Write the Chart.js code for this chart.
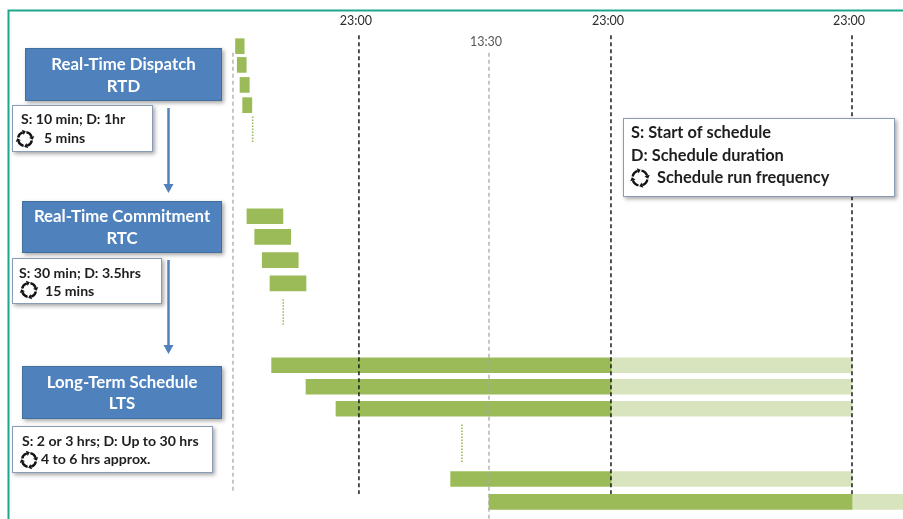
<!DOCTYPE html>
<html>
<head>
<meta charset="utf-8">
<script src="https://cdn.jsdelivr.net/npm/chart.js@4.4.1/dist/chart.umd.min.js"></script>
<style>
  html, body { margin: 0; padding: 0; background: #fff; }
  #wrap { width: 903px; height: 519px; }
</style>
</head>
<body>
<div id="wrap"><canvas id="scheduleChart" width="903" height="519"></canvas></div>
<script>
// time axis in hours (0 = left grey marker), rows are "lanes" counted from the top
const markerHours = [0, 12.35, 25.1, 37.06, 60.69];
const markerLabels = ['', '23:00', '13:30', '23:00', '23:00'];
const markerDark = [false, true, false, true, true];
const markerTop = [2.4, 1.6, 2.4, 1.6, 1.6];
const markerBottom = [22.35, 22.45, 23.6, 22.45, 22.45];

const rtdLanes = [2.1, 2.95, 3.86, 4.78];
const rtdStart = [0.25, 0.42, 0.69, 0.95];
const rtdEnd = [1.1, 1.3, 1.6, 1.85];

const rtcLanes = [9.83, 10.77, 11.82, 12.88];
const rtcStart = [1.37, 2.13, 2.87, 3.63];
const rtcEnd = [4.9, 5.66, 6.4, 7.16];

const ltsLanes = [16.6, 17.58, 18.58, 21.77, 22.81];
const ltsStart = [3.79, 7.16, 10.1, 21.34, 25.1];
const ltsFirmEnd = [37.06, 37.06, 37.06, 37.06, 60.69];
const ltsAdvisoryEnd = [60.69, 60.69, 60.69, 60.69, 65.7];

// dotted "more runs" marks: hour, top lane, bottom lane
const moreRunsHour = [1.93, 4.93, 22.45];
const moreRunsTop = [5.3, 13.6, 19.3];
const moreRunsBottom = [6.5, 14.77, 21.05];

const stageTitles = [['Real-Time Dispatch', 'RTD'], ['Real-Time Commitment', 'RTC'], ['Long-Term Schedule', 'LTS']];
const stageSpan = ['S: 10 min; D: 1hr', 'S: 30 min; D: 3.5hrs', 'S: 2 or 3 hrs; D: Up to 30 hrs'];
const stageFreq = ['5 mins', '15 mins', '4 to 6 hrs approx.'];
const legendLines = ['S: Start of schedule', 'D: Schedule duration', 'Schedule run frequency'];

const DARK_GREEN = '#9bbb59';
const LIGHT_GREEN = '#d7e4bd';
const BLUE = '#4f81bd';

// panel layout (pixels)
const stageBoxes = [
  { x: 25, y: 48, w: 197, h: 53, t1: 65, t2: 87 },
  { x: 22, y: 201, w: 200, h: 52, t1: 217, t2: 239 },
  { x: 22, y: 366, w: 200, h: 53, t1: 383, t2: 404 }
];
const infoBoxes = [
  { x: 12, y: 105, w: 141, h: 47, tx: 21, t1: 119, t2: 138, ix: 25, iy: 139, fx: 44 },
  { x: 12, y: 258, w: 150, h: 46, tx: 19, t1: 273, t2: 291, ix: 29, iy: 290, fx: 45 },
  { x: 12, y: 426, w: 201, h: 47, tx: 22, t1: 441, t2: 459, ix: 29, iy: 460, fx: 41 }
];
const arrows = [[168.5, 108, 193], [168.5, 260, 354]];

function fitFont(ctx, text, width, weight) {
  ctx.font = weight + ' 100px Lato';
  const size = 100 * width / ctx.measureText(text).width;
  return weight + ' ' + size.toFixed(1) + 'px Lato';
}

function drawCycle(ctx, cx, cy, r) {
  ctx.save();
  ctx.strokeStyle = '#111';
  ctx.fillStyle = '#111';
  ctx.lineWidth = 2.4;
  for (let k = 0; k < 4; k++) {
    const a0 = k * Math.PI / 2 + 0.2;
    const a1 = a0 + 1.05;
    ctx.beginPath();
    ctx.arc(cx, cy, r, a0, a1);
    ctx.stroke();
    const ex = cx + r * Math.cos(a1), ey = cy + r * Math.sin(a1);
    const tx = -Math.sin(a1), ty = Math.cos(a1);
    const nx = Math.cos(a1), ny = Math.sin(a1);
    ctx.beginPath();
    ctx.moveTo(ex + tx * 3.2, ey + ty * 3.2);
    ctx.lineTo(ex + nx * 2.8, ey + ny * 2.8);
    ctx.lineTo(ex - nx * 2.8, ey - ny * 2.8);
    ctx.closePath();
    ctx.fill();
  }
  ctx.restore();
}

function boxWithShadow(ctx, x, y, w, h, fill, stroke) {
  ctx.save();
  ctx.shadowColor = 'rgba(0,0,0,0.35)';
  ctx.shadowBlur = 4;
  ctx.shadowOffsetX = 2;
  ctx.shadowOffsetY = 2;
  ctx.fillStyle = fill;
  ctx.fillRect(x, y, w, h);
  ctx.restore();
  ctx.strokeStyle = stroke;
  ctx.lineWidth = 1;
  ctx.strokeRect(x + 0.5, y + 0.5, w - 1, h - 1);
}

const panelPlugin = {
  id: 'panel',
  beforeDraw(chart) {
    const ctx = chart.ctx;
    ctx.save();
    ctx.fillStyle = '#fff';
    ctx.fillRect(0, 0, chart.width, chart.height);
    ctx.strokeStyle = '#1aa78b';
    ctx.lineWidth = 2;
    ctx.beginPath();
    ctx.moveTo(8.5, chart.height);
    ctx.lineTo(8.5, 10.5);
    ctx.lineTo(chart.width, 10.5);
    ctx.stroke();
    ctx.restore();
  },
  afterDraw(chart) {
    const ctx = chart.ctx;
    const xs = chart.scales.x;
    ctx.save();
    ctx.textBaseline = 'middle';

    // time labels
    const tickFont = fitFont(ctx, '23:00', 32, 'normal');
    markerLabels.forEach((label, i) => {
      if (!label) return;
      ctx.font = tickFont;
      ctx.fillStyle = markerDark[i] ? '#2b2b2b' : '#555';
      ctx.textAlign = 'center';
      ctx.fillText(label, xs.getPixelForValue(markerHours[i]) - 3, markerDark[i] ? 21 : 42);
    });

    // stage boxes
    const titleFont = fitFont(ctx, 'Real-Time Commitment', 176, 'bold');
    stageBoxes.forEach((b, i) => {
      boxWithShadow(ctx, b.x, b.y, b.w, b.h, BLUE, '#41709f');
      ctx.font = titleFont;
      ctx.fillStyle = '#fff';
      ctx.textAlign = 'center';
      ctx.fillText(stageTitles[i][0], b.x + b.w / 2, b.t1);
      ctx.fillText(stageTitles[i][1], b.x + b.w / 2, b.t2);
    });

    // info boxes
    const infoFont = fitFont(ctx, stageSpan[2], 177, 'bold');
    infoBoxes.forEach((b, i) => {
      boxWithShadow(ctx, b.x, b.y, b.w, b.h, '#fff', '#8a9bb5');
      ctx.font = infoFont;
      ctx.fillStyle = '#1e1e1e';
      ctx.textAlign = 'left';
      ctx.fillText(stageSpan[i], b.tx, b.t1);
      ctx.fillText(stageFreq[i], b.fx, b.t2);
      drawCycle(ctx, b.ix, b.iy, 7);
    });

    // arrows
    ctx.strokeStyle = BLUE;
    ctx.fillStyle = BLUE;
    ctx.lineWidth = 2.5;
    arrows.forEach(([x, y0, y1]) => {
      ctx.beginPath();
      ctx.moveTo(x, y0);
      ctx.lineTo(x, y1 - 7);
      ctx.stroke();
      ctx.beginPath();
      ctx.moveTo(x - 5, y1 - 9);
      ctx.lineTo(x + 5, y1 - 9);
      ctx.lineTo(x, y1);
      ctx.closePath();
      ctx.fill();
    });

    // legend box
    boxWithShadow(ctx, 623, 118, 272, 79, '#fff', '#8a9bb5');
    ctx.font = fitFont(ctx, legendLines[2], 173, 'bold');
    ctx.fillStyle = '#1e1e1e';
    ctx.textAlign = 'left';
    ctx.fillText(legendLines[0], 631, 133);
    ctx.fillText(legendLines[1], 631, 155.5);
    ctx.fillText(legendLines[2], 657, 178);
    drawCycle(ctx, 640, 178, 7.5);
    ctx.restore();
  }
};

const markerSets = markerHours.map((h, i) => ({
  type: 'line',
  data: [{ x: h, y: markerTop[i] }, { x: h, y: markerBottom[i] }],
  borderColor: markerDark[i] ? '#1c1c1c' : '#a9a9a9',
  borderWidth: markerDark[i] ? 1.5 : 1.3,
  borderDash: [4, 3],
  pointRadius: 0
}));

const moreRunSets = moreRunsHour.map((h, i) => ({
  type: 'line',
  data: [{ x: h, y: moreRunsTop[i] }, { x: h, y: moreRunsBottom[i] }],
  borderColor: DARK_GREEN,
  borderWidth: 1.6,
  borderDash: [1.5, 1.5],
  pointRadius: 0
}));

const firmBars = [];
rtdLanes.forEach((y, i) => firmBars.push({ x: [rtdStart[i], rtdEnd[i]], y: y }));
rtcLanes.forEach((y, i) => firmBars.push({ x: [rtcStart[i], rtcEnd[i]], y: y }));
ltsLanes.forEach((y, i) => firmBars.push({ x: [ltsStart[i], ltsFirmEnd[i]], y: y }));
const advisoryBars = ltsLanes.map((y, i) => ({ x: [ltsFirmEnd[i], ltsAdvisoryEnd[i]], y: y }));

new Chart(document.getElementById('scheduleChart'), {
  type: 'bar',
  data: {
    datasets: [
      ...markerSets,
      ...moreRunSets,
      { type: 'bar', data: firmBars, backgroundColor: DARK_GREEN, barThickness: 15, grouped: false },
      { type: 'bar', data: advisoryBars, backgroundColor: LIGHT_GREEN, barThickness: 15, grouped: false }
    ]
  },
  options: {
    indexAxis: 'y',
    responsive: false,
    animation: false,
    layout: { padding: 0 },
    plugins: { legend: { display: false }, tooltip: { enabled: false } },
    scales: {
      x: { type: 'linear', min: -22.84, max: 65.69, display: false },
      y: { type: 'linear', min: 0, max: 23.59, reverse: true, offset: false, display: false }
    }
  },
  plugins: [panelPlugin]
});
</script>
</body>
</html>
